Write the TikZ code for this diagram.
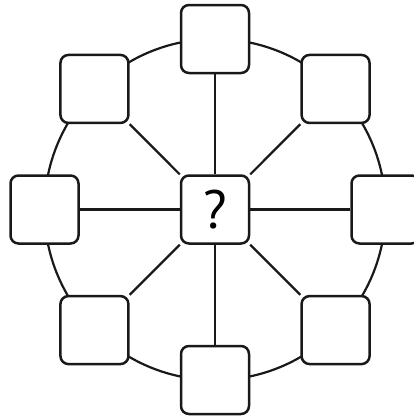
\documentclass[tikz,border=0pt]{standalone}
\usepackage{fontspec}
\setmainfont{PT Sans}
\usetikzlibrary{calc,backgrounds}
\begin{document}
\begin{tikzpicture}[x=1pt,y=-1pt,
  box/.style={draw=black!90,line width=2.5pt,fill=white,rounded corners=8pt,minimum width=68pt,minimum height=68pt,inner sep=0pt},
  spoke/.style={draw=black!90,line width=2.2pt}]
\useasboundingbox (0,0) rectangle (414,416);
\coordinate (c) at (215,209.5);
\node[box,font=\fontsize{54}{54}\selectfont] (q) at (c) {?};
\foreach \a/\n in {90/t,45/tr,0/r,-45/br,-90/b,-135/bl,180/l,135/tl}{
  \node[box] (\n) at ($(c)+(\a:170.5pt)$) {};
}
\begin{scope}[on background layer]
\draw[spoke] (c) circle (170.5pt);
\foreach \n in {t,tr,r,br,b,bl,l,tl}{
  \draw[spoke] (q) -- (\n);
}
\end{scope}
\end{tikzpicture}
\end{document}
